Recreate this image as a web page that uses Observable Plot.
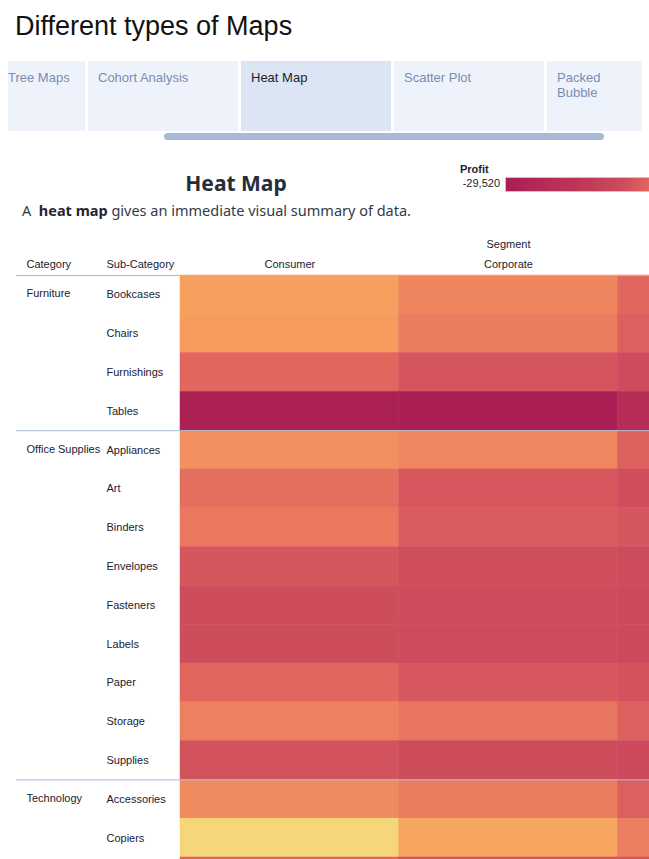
<!DOCTYPE html>
<html>
<head>
<meta charset="utf-8">
<script src="https://cdn.jsdelivr.net/npm/d3@7"></script>
<script src="https://cdn.jsdelivr.net/npm/@observablehq/plot@0.6"></script>
<style>
  html, body { margin: 0; padding: 0; background: #fff; }
  body { width: 649px; height: 859px; overflow: hidden; position: relative; font-family: "Liberation Sans", Arial, sans-serif; }
  .title { position: absolute; left: 15px; top: 13px; font-size: 27px; line-height: 27px; color: #111; white-space: nowrap; }
  .tab { position: absolute; top: 61px; height: 70px; background: #eef3fb; box-sizing: border-box; padding: 9px 0 0 10px; font-size: 13px; line-height: 15px; color: #7b8cb2; }
  .tab.sel { background: #dbe5f4; color: #1b1f2a; }
  .scroll { position: absolute; left: 164px; top: 133px; width: 440px; height: 7px; border-radius: 4px; background: #a9b8d5; }
  .htitle { position: absolute; left: 0; width: 472px; top: 170px; text-align: center; font-family: "Noto Sans", sans-serif; font-weight: 700; font-size: 21px; line-height: 26px; color: #262d3b; }
  .hsub { position: absolute; left: 22px; top: 200px; font-family: "Noto Sans", sans-serif; font-size: 14.5px; line-height: 20px; color: #333a46; white-space: nowrap; }
  .hsub b { color: #1f2533; }
  .lgtitle { position: absolute; left: 460px; top: 163px; font-size: 11px; font-weight: 700; color: #1b1f2a; }
  .lgmin { position: absolute; left: 440px; width: 60px; text-align: right; top: 177px; font-size: 11px; color: #1b1f2a; }
  .lgbar { position: absolute; left: 505px; top: 177px; width: 240px; height: 15px; box-sizing: border-box; border: 1px solid #d9b6d6; }
  #chart { position: absolute; left: 0; top: 228px; width: 836px; }
  #chart svg { max-width: none !important; }
</style>
</head>
<body>
<div class="title">Different types of Maps</div>
<div id="tabs"></div>
<div class="scroll"></div>
<div class="htitle">Heat Map</div>
<div class="hsub">A&nbsp; <b>heat map</b> gives an immediate visual summary of data.</div>
<div class="lgtitle">Profit</div>
<div class="lgmin">-29,520</div>
<div class="lgbar" id="lgbar"></div>
<div id="chart"></div>
<script>
// ---- data ----
const tabs = ["Tree Maps", "Cohort Analysis", "Heat Map", "Scatter Plot", "Packed Bubble"];
const segments = ["Consumer", "Corporate", "Home Office"];
const categories = ["Furniture", "Office Supplies", "Technology"];
const subCategories = {
  "Furniture": ["Bookcases", "Chairs", "Furnishings", "Tables"],
  "Office Supplies": ["Appliances", "Art", "Binders", "Envelopes", "Fasteners", "Labels", "Paper", "Storage", "Supplies"],
  "Technology": ["Accessories", "Copiers", "Machines", "Phones"]
};
// profit estimates read from the colours: [Consumer, Corporate, Home Office]
const profitConsumer  = [16800, 15800, 6000, -27000, 13500, 7500, 9000, 2700, 300, 200, 6000, 11000, 1800, 12700, 29000, 6000, 12000];
const profitCorporate = [11800, 9800, 2300, -29520, 12000, 3000, 4000, 400, -400, -500, 3000, 8500, 0, 9800, 18000, 1500, 9000];
const profitHomeOffice= [6000, 4800, -300, -19000, 5200, 700, 2700, -400, -1200, -1300, 1800, 4700, -1000, 4700, 10500, 2500, 4000];
const legendMin = -29520;
const colorDomain = [-29520, -12000, 0, 3000, 6000, 9000, 12000, 15000, 18000, 30000];
const colorRange  = ["#a91e53", "#bd3558", "#cd4c5c", "#d6585e", "#e0665e", "#e9785f", "#ef865f", "#f4985e", "#f6a65e", "#f5db7c"];

// ---- tabs ----
const tabBoxes = [[8, 77], [88, 150], [241, 150], [394, 150], [547, 95]];
const tabsEl = document.getElementById("tabs");
tabs.forEach((t, i) => {
  const d = document.createElement("div");
  d.className = "tab" + (t === "Heat Map" ? " sel" : "");
  d.style.left = tabBoxes[i][0] + "px";
  d.style.width = tabBoxes[i][1] + "px";
  if (i === 0) d.style.paddingLeft = "0px";
  d.innerHTML = t === "Packed Bubble" ? "Packed<br>Bubble" : t;
  tabsEl.appendChild(d);
});

// ---- table ----
const rows = [];
const order = [];
let k = 0;
categories.forEach(c => subCategories[c].forEach((s, j) => {
  order.push(s);
  rows.push({category: c, sub: s, first: j === 0, values: [profitConsumer[k], profitCorporate[k], profitHomeOffice[k]]});
  k++;
}));
const cells = rows.flatMap(r => segments.map((seg, i) => ({sub: r.sub, segment: seg, profit: r.values[i]})));
const firsts = rows.filter(r => r.first);

const marginTop = 47, step = 38.8;
const height = marginTop + step * order.length;

const font = "Liberation Sans, Arial, sans-serif";
const chart = Plot.plot({
  width: 836,
  height,
  marginLeft: 180,
  marginRight: 0,
  marginTop,
  marginBottom: 0,
  style: {fontFamily: font, fontSize: "11px", color: "#1b2030", background: "transparent", overflow: "visible", maxWidth: "none"},
  x: {domain: segments, padding: 0, round: false, axis: "top", label: null, tickSize: 0, tickPadding: 7},
  y: {domain: order, padding: 0, round: false, axis: null},
  color: {type: "linear", domain: colorDomain, range: colorRange, interpolate: "rgb"},
  marks: [
    Plot.cell(cells, {x: "segment", y: "sub", fill: "profit", inset: 0, stroke: "profit", strokeWidth: 0.5}),
    Plot.ruleY(firsts, {y: "sub", dy: -step / 2, stroke: "#a8b9d9", strokeWidth: 1, insetLeft: -164}),
    Plot.text(rows, {y: "sub", text: "sub", frameAnchor: "left", textAnchor: "start", dx: -74, fill: "#1b2030", fontSize: 11}),
    Plot.text(firsts, {y: "sub", text: "category", frameAnchor: "left", textAnchor: "start", dx: -154, dy: -1, fill: "#1b2030", fontSize: 11}),
    Plot.text(["Category"], {text: d => d, frameAnchor: "top-left", lineAnchor: "middle", textAnchor: "start", dx: -154, dy: -11, fill: "#1b2030", fontSize: 11}),
    Plot.text(["Sub-Category"], {text: d => d, frameAnchor: "top-left", lineAnchor: "middle", textAnchor: "start", dx: -74, dy: -11, fill: "#1b2030", fontSize: 11}),
    Plot.text(["Segment"], {text: d => d, frameAnchor: "top", lineAnchor: "middle", dy: -31, fill: "#1b2030", fontSize: 11})
  ]
});
document.getElementById("chart").appendChild(chart);

// legend gradient from the same colour scale
const cs = chart.scale("color");
const sc = Plot.scale({color: cs});
const lo = legendMin, hi = colorDomain[colorDomain.length - 1];
const stops = d3.range(0, 1.0001, 0.05).map(t => `${sc.apply(lo + t * (hi - lo))} ${(t * 100).toFixed(0)}%`);
document.getElementById("lgbar").style.background = `linear-gradient(to right, ${stops.join(",")})`;
</script>
</body>
</html>
